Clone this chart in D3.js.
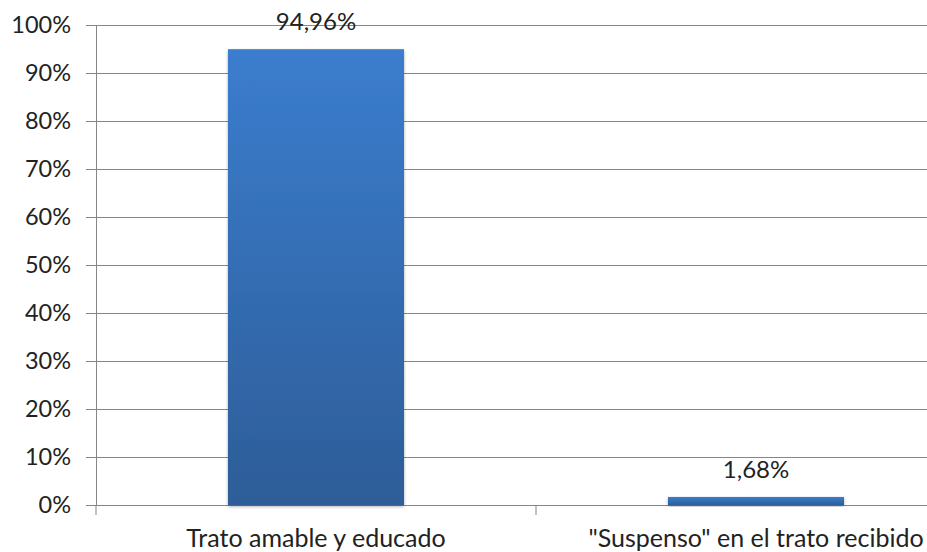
<!DOCTYPE html>
<html>
<head>
<meta charset="utf-8">
<script src="https://cdn.jsdelivr.net/npm/d3@7"></script>
<style>
  html, body { margin: 0; padding: 0; background: #fff; overflow: hidden; }
  svg { display: block; font-family: Lato, "Open Sans", sans-serif; }
</style>
</head>
<body>
<svg id="chart" width="927" height="552"></svg>
<script>
// Survey result: share of respondents per category
const categories = ["Trato amable y educado", "\"Suspenso\" en el trato recibido"];
const values = [94.96, 1.68];
const valueLabels = ["94,96%", "1,68%"];
const yTicks = [0, 10, 20, 30, 40, 50, 60, 70, 80, 90, 100];

const svg = d3.select("#chart");
const margin = { left: 96, top: 25, bottom: 47 };
const bandWidth = 440;
const height = 552 - margin.top - margin.bottom;

const x = d3.scaleBand()
  .domain(categories)
  .range([margin.left, margin.left + bandWidth * categories.length])
  .paddingInner(0.6)
  .paddingOuter(0.3);

const y = d3.scaleLinear().domain([0, 100]).range([margin.top + height, margin.top]);

// gradient for bars
const defs = svg.append("defs");
const grad = defs.append("linearGradient").attr("id", "barGrad")
  .attr("x1", 0).attr("y1", 0).attr("x2", 0).attr("y2", 1);
grad.append("stop").attr("offset", "0%").attr("stop-color", "#3b7dce");
grad.append("stop").attr("offset", "100%").attr("stop-color", "#2d5d98");
const shadow = defs.append("filter").attr("id", "shadow")
  .attr("x", "-10%").attr("y", "-10%").attr("width", "120%").attr("height", "130%");
shadow.append("feDropShadow").attr("dx", 0).attr("dy", 1.5).attr("stdDeviation", 1.5)
  .attr("flood-color", "#000").attr("flood-opacity", 0.35);

// horizontal gridlines with left tick marks
const yAxis = d3.axisLeft(y).tickValues(yTicks).tickFormat(d => d + "%")
  .tickSize(10).tickPadding(15);
const gy = svg.append("g").attr("transform", `translate(${margin.left},0)`).call(yAxis);
gy.select(".domain").attr("stroke", "#868686");
gy.selectAll(".tick line").attr("stroke", "#868686");
gy.selectAll(".tick").append("line")
  .attr("x1", 0).attr("x2", 927 - margin.left)
  .attr("stroke", "#868686").attr("stroke-width", 1);
gy.selectAll(".tick text").attr("font-size", 23.5).attr("fill", "#222")
  .attr("font-family", "Lato, 'Open Sans', sans-serif");

// category axis with boundary ticks
const gx = svg.append("g").attr("transform", `translate(0,${y(0)})`);
const bounds = categories.map((c, i) => margin.left + bandWidth * i);
gx.selectAll("line.bound").data(bounds).join("line")
  .attr("class", "bound")
  .attr("x1", d => d).attr("x2", d => d).attr("y1", 0).attr("y2", 10)
  .attr("stroke", "#868686");
gx.selectAll("text").data(categories).join("text")
  .attr("x", d => x(d) + x.bandwidth() / 2)
  .attr("y", 42)
  .attr("text-anchor", "middle")
  .attr("font-size", 25)
  .attr("fill", "#222")
  .text(d => d);

// bars
svg.append("g").selectAll("rect").data(values).join("rect")
  .attr("x", (d, i) => x(categories[i]))
  .attr("y", d => y(d))
  .attr("width", x.bandwidth())
  .attr("height", d => y(0) - y(d))
  .attr("fill", "url(#barGrad)")
  .attr("filter", "url(#shadow)");

// value labels
svg.append("g").selectAll("text").data(values).join("text")
  .attr("x", (d, i) => x(categories[i]) + x.bandwidth() / 2)
  .attr("y", d => y(d) - 19)
  .attr("text-anchor", "middle")
  .attr("font-size", 24)
  .attr("fill", "#222")
  .text((d, i) => valueLabels[i]);
</script>
</body>
</html>
